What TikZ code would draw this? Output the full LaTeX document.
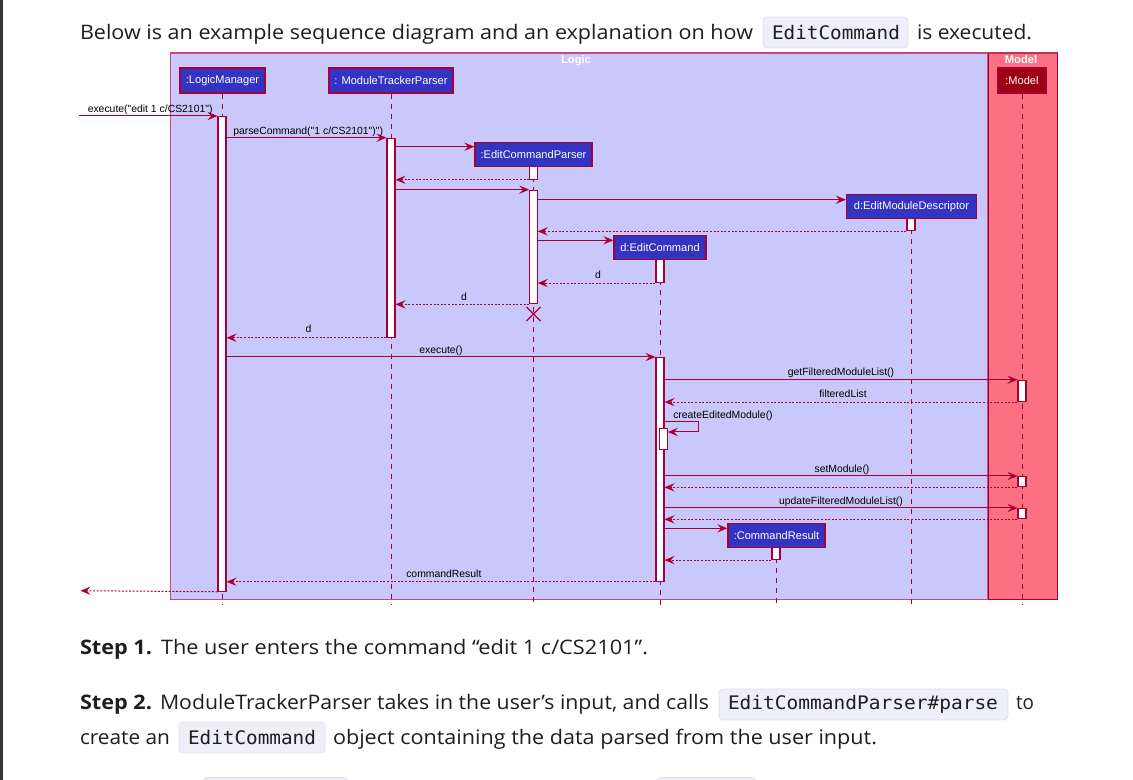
\documentclass[tikz,border=0pt]{standalone}
\usepackage{fontspec}
\usepackage{graphicx}
\setmainfont{Open Sans}
\newfontfamily\dgf{Liberation Sans}
\newfontfamily\cdf{DejaVu Sans Mono}
\usetikzlibrary{arrows.meta}
\newdimen\pxu \pxu=0.75pt
\definecolor{crim}{HTML}{A80036}
\definecolor{lblue}{HTML}{3333C4}
\definecolor{logicT}{HTML}{C8C8FA}
\definecolor{modelT}{HTML}{FC7182}
\definecolor{modelD}{HTML}{9D0012}
\definecolor{frameB}{HTML}{C04B7C}
\definecolor{codebg}{HTML}{EFEFFA}
\definecolor{codebd}{HTML}{E0E0EE}
\definecolor{txt}{HTML}{1E1E1E}
\newcommand\seg[4]{\node[anchor=base west, inner sep=0pt, outer sep=0pt, text=txt] (#1) at (#2) {\resizebox{#3\pxu}{\height}{#4}};}
\newcommand\actbar[5]{\node[actb, minimum width=#5*0.75pt, minimum height={(#4-#3)*0.75pt}, anchor=north] (#1) at (#2,#3) {};}
\tikzset{
  part/.style={draw=crim, line width=1pt, fill=lblue, text=white, inner sep=0pt,
    font=\dgf\fontsize{8.3}{10}\selectfont},
  actb/.style={draw=crim, line width=0.8pt, fill=white, inner sep=0pt},
  life/.style={draw=crim, line width=0.75pt, dash pattern=on 3.75pt off 3.75pt},
  msg/.style={draw=crim, line width=0.75pt, -{Stealth[length=7.5pt,width=6.2pt,inset=2.8pt]}},
  ret/.style={msg, dash pattern=on 1.5pt off 1.2pt},
  lbl/.style={inner sep=0pt, text=black, font=\dgf\fontsize{7.8}{9}\selectfont},
  ttl/.style={inner sep=0pt, text=white, font=\dgf\bfseries\fontsize{8.4}{10}\selectfont},
  codebox/.style={fill=codebg, draw=codebd, line width=0.6pt, rounded corners=3pt},
}
\begin{document}
\begin{tikzpicture}[x=0.75pt,y=-0.75pt]
\useasboundingbox (0,0) rectangle (1133,780);
\fill[white] (0,0) rectangle (1133,780);
\fill[black!78] (0,0) rectangle (2.5,780);

% ---------- prose ----------
\def\bigf{\fontsize{15}{18}\selectfont}
\def\codef{\cdf\fontsize{14}{17}\selectfont}
\draw[codebox] (763,17) rectangle (908,48);
\seg{h1}{80,39.5}{673}{\bigf Below is an example sequence diagram and an explanation on how}
\seg{h2}{772,39.5}{128}{\codef EditCommand}
\seg{h3}{917,39.5}{115}{\bigf is executed.}

\seg{s1a}{80,654.5}{72}{\bigf\bfseries Step 1.}
\seg{s1b}{161,654.5}{487}{\bigf The user enters the command “edit 1 c/CS2101”.}

\draw[codebox] (719,689) rectangle (1008,720);
\seg{s2a}{80,710}{72}{\bigf\bfseries Step 2.}
\seg{s2b}{160,710}{549}{\bigf ModuleTrackerParser takes in the user’s input, and calls}
\seg{s2c}{728,710}{270}{\codef EditCommandParser\#parse}
\seg{s2d}{1016,710}{18}{\bigf to}

\draw[codebox] (179,722) rectangle (325,753);
\seg{s3a}{80,744.5}{90}{\bigf create an}
\seg{s3b}{188,744.5}{128}{\codef EditCommand}
\seg{s3c}{333,744.5}{544}{\bigf object containing the data parsed from the user input.}

\draw[codebox] (203,777.5) rectangle (348,790);
\draw[codebox] (657,777.5) rectangle (756,790);

% ---------- frames ----------
\draw[fill=logicT, draw=frameB, line width=0.75pt] (170,52.5) rectangle (987,599.3);
\draw[frameB, line width=1.5pt] (170,52.8) -- (987,52.8);
\draw[fill=modelT, draw=crim, line width=0.75pt] (988,52.5) rectangle (1057,599.3);
\draw[crim!80!white, line width=1.5pt] (988,52.8) -- (1057,52.8);
\node[ttl, anchor=base] (tLogic) at (576,63.5) {Logic};
\node[ttl, anchor=base] (tModel) at (1021,63.5) {Model};

% ---------- participants ----------
\node[part, minimum width=85*0.75pt, minimum height=25*0.75pt] (lm) at (222.5,80.5) {:LogicManager};
\node[part, minimum width=124*0.75pt, minimum height=25*0.75pt] (mtp) at (391,80.5) {: ModuleTrackerParser};
\node[part, minimum width=117*0.75pt, minimum height=23.5*0.75pt] (ecp) at (533.5,154.5) {:EditCommandParser};
\node[part, minimum width=130*0.75pt, minimum height=23.5*0.75pt] (emd) at (911.5,206.5) {d:EditModuleDescriptor};
\node[part, minimum width=92*0.75pt, minimum height=23.5*0.75pt] (ec) at (660,247.5) {d:EditCommand};
\node[part, minimum width=97*0.75pt, minimum height=23.5*0.75pt] (cr) at (776.5,535.5) {:CommandResult};
\node[part, fill=modelD, minimum width=48*0.75pt, minimum height=25*0.75pt] (mdl) at (1022,80.5) {:Model};

% ---------- lifelines ----------
\draw[life] (lm.south) -- (lm.south |- 0,605);
\draw[life] (mtp.south) -- (mtp.south |- 0,605);
\draw[life] (ecp.south) -- (ecp.south |- 0,605);
\draw[life] (emd.south) -- (emd.south |- 0,605);
\draw[life] (ec.south) -- (ec.south |- 0,605);
\draw[life] (cr.south) -- (cr.south |- 0,605);
\draw[life] (mdl.south) -- (mdl.south |- 0,605);

% ---------- activation bars ----------
\actbar{lmA}{222}{116}{590.7}{8}
\actbar{mtpA}{391}{137.7}{336.7}{8}
\actbar{ecpA}{533.5}{166}{178.7}{7.5}
\actbar{ecpB}{533.5}{189.7}{303.3}{7.5}
\actbar{emdA}{911}{218}{230.3}{8}
\actbar{ecA}{660}{259}{282}{8}
\actbar{ecB}{660}{357}{580.7}{8}
\actbar{ecS}{663.5}{428}{449}{7.5}
\actbar{mdlA}{1022}{379.7}{401}{8}
\actbar{mdlB}{1022}{476}{486.3}{8}
\actbar{mdlC}{1022}{508}{518.3}{8}
\actbar{crA}{776}{547}{559}{8}

% ---------- messages ----------
\coordinate (inL) at (79,116);
\draw[msg] (inL) -- (lmA.north west);
\node[lbl, anchor=base west] (m1) at (87.5,113) {execute("edit 1 c/CS2101")};

\draw[msg] (lmA.east |- mtpA.north) -- (mtpA.north west);
\node[lbl, anchor=base west] (m2) at (233,134.5) {parseCommand("1 c/CS2101")")};

\draw[msg] (mtpA.east |- 0,146.7) -- (ecp.west |- 0,146.7);
\draw[ret] (ecpA.south west) -- (mtpA.east |- ecpA.south);
\draw[msg] (mtpA.east |- ecpB.north) -- (ecpB.north west);
\draw[msg] (ecpB.east |- 0,199.7) -- (emd.west |- 0,199.7);
\draw[ret] (emdA.south west) -- (ecpB.east |- emdA.south);
\draw[msg] (ecpB.east |- 0,240.3) -- (ec.west |- 0,240.3);
\draw[ret] (ecA.south west) -- (ecpB.east |- ecA.south);
\node[lbl, anchor=base] (m9) at (598,278.5) {d};
\draw[ret] (ecpB.south west) -- (mtpA.east |- ecpB.south);
\node[lbl, anchor=base] (m10) at (464,300.5) {d};

\coordinate (xc) at (533.5,314);
\draw[crim, line width=0.9pt] ([shift={(-7,-7)}]xc) -- ([shift={(7,7)}]xc)
  ([shift={(-7,7)}]xc) -- ([shift={(7,-7)}]xc);

\draw[ret] (mtpA.south west) -- (lmA.east |- mtpA.south);
\node[lbl, anchor=base] (m11) at (308.5,332.5) {d};

\draw[msg] (lmA.east |- ecB.north) -- (ecB.north west);
\node[lbl, anchor=base] (m12) at (441,353.5) {execute()};

\draw[msg] (ecB.east |- mdlA.north) -- (mdlA.north west);
\node[lbl, anchor=base] (m13) at (841,376) {getFilteredModuleList()};
\draw[ret] (mdlA.south west) -- (ecB.east |- mdlA.south);
\node[lbl, anchor=base] (m14) at (843,397.5) {filteredList};

\coordinate (sc1) at (698,422);
\coordinate (sc2) at (698,432);
\draw[msg] (ecB.east |- sc1) -- (sc1) -- (sc2) -- (ecS.east |- sc2);
\node[lbl, anchor=base west] (m15) at (673,419) {createEditedModule()};

\draw[msg] (ecB.east |- mdlB.north) -- (mdlB.north west);
\node[lbl, anchor=base] (m16) at (842,472.5) {setModule()};
\draw[ret] (mdlB.south west) -- (ecB.east |- mdlB.south);

\draw[msg] (ecB.east |- mdlC.north) -- (mdlC.north west);
\node[lbl, anchor=base] (m18) at (841,504.5) {updateFilteredModuleList()};
\draw[ret] (mdlC.south west) -- (ecB.east |- mdlC.south);

\draw[msg] (ecB.east |- 0,528.3) -- (cr.west |- 0,528.3);
\draw[ret] (crA.south west) -- (ecB.east |- crA.south);

\draw[ret] (ecB.south west) -- (lmA.east |- ecB.south);
\node[lbl, anchor=base west] (m22) at (406,577.5) {commandResult};

\coordinate (outR) at (80.5,590.7);
\draw[ret] (lmA.south west) -- (outR);
\end{tikzpicture}
\end{document}
